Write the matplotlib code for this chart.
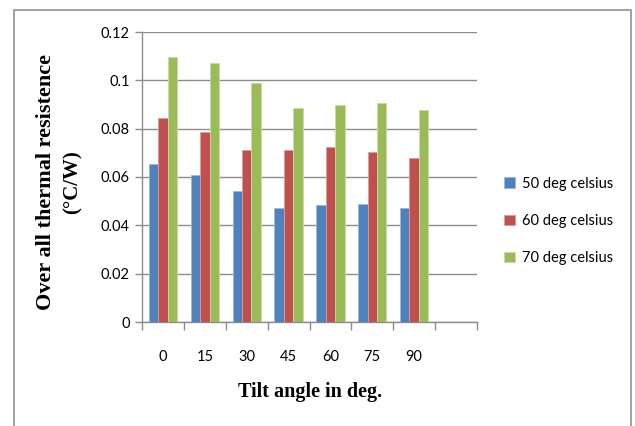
import matplotlib
matplotlib.use("Agg")
import matplotlib.pyplot as plt
import numpy as np
from matplotlib.patches import Rectangle

angles = ["0", "15", "30", "45", "60", "75", "90"]
series_names = ["50 deg celsius", "60 deg celsius", "70 deg celsius"]
r50 = [0.0654, 0.0607, 0.0541, 0.0473, 0.0485, 0.0489, 0.0470]
r60 = [0.0843, 0.0788, 0.0711, 0.0711, 0.0723, 0.0702, 0.0679]
r70 = [0.1095, 0.1073, 0.0990, 0.0887, 0.0899, 0.0907, 0.0877]
colors = ["#4F81BD", "#C0504D", "#9BBB59"]
edges = ["#9DB9DB", "#DC9C9A", "#C7DCA5"]

tick_font = "Lato"
title_font = "Liberation Serif"

fig = plt.figure(figsize=(6.35, 4.26), dpi=100)
fig.patch.set_facecolor("white")

# outer chart border
fig.patches.append(Rectangle((14 / 635, -0.05), (631 - 14) / 635, 1.05 - 10 / 426,
                             transform=fig.transFigure, fill=False,
                             edgecolor="#9a9a9a", linewidth=1.3, zorder=0))

ax = fig.add_axes([142 / 635, (426 - 322) / 426, (477 - 142) / 635, (322 - 32) / 426])

n_slots = 8
x = np.arange(len(angles))
w = 0.225
for i, (vals, c, ec, name) in enumerate(zip([r50, r60, r70], colors, edges, series_names)):
    ax.bar(x + (i - 1) * w, vals, width=w, color=c, edgecolor=ec, linewidth=0.6,
           label=name, zorder=3)

ax.set_xlim(-0.5, n_slots - 0.5)
ax.set_ylim(0, 0.12)
ax.set_yticks(np.arange(0, 0.121, 0.02))
ax.set_yticklabels(["0", "0.02", "0.04", "0.06", "0.08", "0.1", "0.12"],
                   fontfamily=tick_font, fontsize=10.5)
ax.yaxis.grid(True, color="#8c8c8c", linewidth=1.0, zorder=0)
ax.set_axisbelow(True)

ax.set_xticks(x)
ax.set_xticklabels(angles, fontfamily=tick_font, fontsize=10.5)
ax.set_xticks(np.arange(-0.5, n_slots, 1.0), minor=True)
ax.tick_params(axis="x", which="major", length=0, pad=20)
ax.tick_params(axis="x", which="minor", length=6, color="#8c8c8c", width=1.0)
ax.tick_params(axis="y", length=5, color="#8c8c8c", width=1.0, pad=4)

for s in ["top", "right"]:
    ax.spines[s].set_visible(False)
for s in ["left", "bottom"]:
    ax.spines[s].set_color("#8c8c8c")
    ax.spines[s].set_linewidth(1.0)

fig.text(46 / 635, 1 - 182 / 426, "Over all thermal resistence", rotation=90,
         ha="center", va="center", fontfamily=title_font, fontweight="bold", fontsize=16)
fig.text(73 / 635, 1 - 182 / 426, "(°C/W)", rotation=90,
         ha="center", va="center", fontfamily=title_font, fontweight="bold", fontsize=15)
fig.text(310 / 635, 1 - 392 / 426, "Tilt angle in deg.", ha="center", va="center",
         fontfamily=title_font, fontweight="bold", fontsize=14.5)

leg = fig.legend(loc="center left", bbox_to_anchor=(497 / 635, 1 - 221 / 426),
                 frameon=False, prop={"family": tick_font, "size": 10.5},
                 handlelength=0.7, handleheight=0.7, handletextpad=0.5,
                 labelspacing=1.6, borderpad=0)

fig.savefig("out.png", dpi=100)
